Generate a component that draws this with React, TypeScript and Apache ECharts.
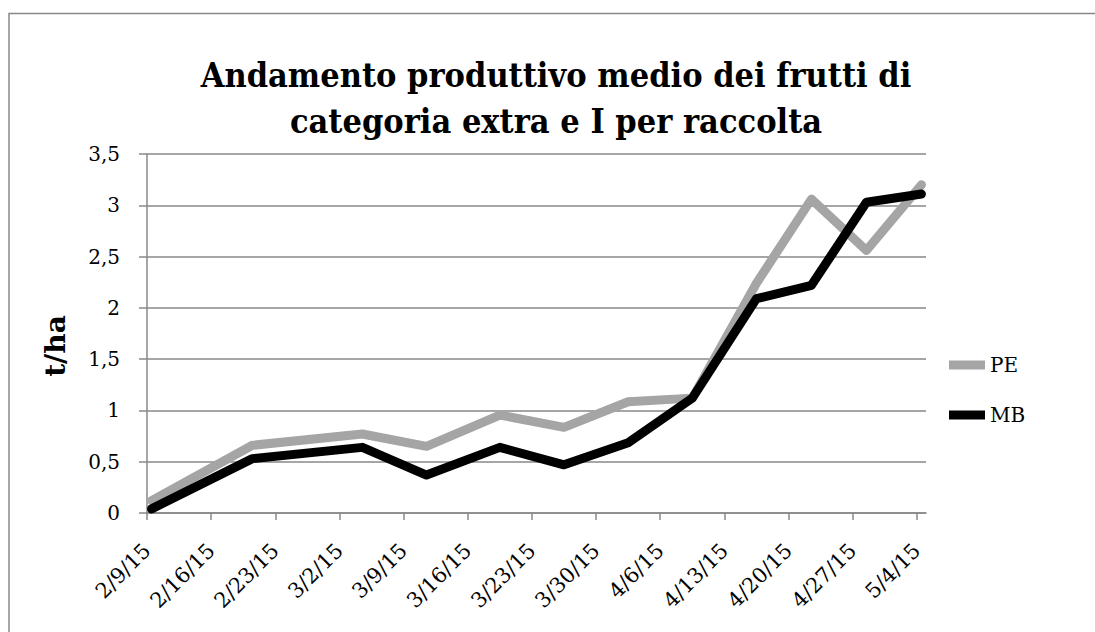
import React, { useEffect, useRef } from "react";
import * as echarts from "echarts";

const harvestDates = [
  "2015-02-09", "2015-02-20", "2015-03-04", "2015-03-11", "2015-03-19", "2015-03-26",
  "2015-04-02", "2015-04-09", "2015-04-16", "2015-04-22", "2015-04-28", "2015-05-04",
];
const peValues = [0.12, 0.66, 0.77, 0.65, 0.955, 0.835, 1.085, 1.12, 2.24, 3.06, 2.56, 3.2];
const mbValues = [0.04, 0.53, 0.64, 0.37, 0.64, 0.47, 0.685, 1.12, 2.09, 2.22, 3.03, 3.11];
const tickDates = [
  "2015-02-09", "2015-02-16", "2015-02-23", "2015-03-02", "2015-03-09", "2015-03-16", "2015-03-23",
  "2015-03-30", "2015-04-06", "2015-04-13", "2015-04-20", "2015-04-27", "2015-05-04",
];
const titleLines = ["Andamento produttivo medio dei frutti di", "categoria extra e I per raccolta"];
const yAxisTitle = "t/ha";
const axisStart = "2015-02-09";
const axisEnd = "2015-05-05";

const DAY = 86400000;
const dayOf = (s: string) => Math.round((Date.parse(s + "T00:00:00Z") - Date.parse(axisStart + "T00:00:00Z")) / DAY);
const fmt = (d: number) => {
  const t = new Date(Date.parse(axisStart + "T00:00:00Z") + Math.round(d) * DAY);
  return `${t.getUTCMonth() + 1}/${t.getUTCDate()}/${String(t.getUTCFullYear()).slice(2)}`;
};

const FONT = "'DejaVu Serif', 'Liberation Serif', serif";

export default function App() {
  const ref = useRef<HTMLDivElement>(null);
  useEffect(() => {
    if (!ref.current) return;
    const chart = echarts.init(ref.current, null, { renderer: "svg" });
    const ticks = tickDates.map(dayOf);
    const mk = (vals: number[]) => harvestDates.map((d, i) => [dayOf(d) + 0.5, vals[i]]);
    chart.setOption({
      animation: false,
      backgroundColor: "#fff",
      graphic: [
        {
          type: "rect",
          shape: { x: 9, y: 13.5, width: 1200, height: 700 },
          style: { fill: "none", stroke: "#888", lineWidth: 1.5 },
          silent: true,
        },
        ...titleLines.map((t, i) => ({
          type: "text",
          x: 556,
          y: 75 + i * 46,
          scaleX: 0.9,
          silent: true,
          style: {
            text: t,
            fontFamily: FONT,
            fontSize: 34,
            fontWeight: "bold",
            fill: "#000",
            textAlign: "center",
            textVerticalAlign: "middle",
          },
        })),
        {
          type: "text",
          x: 55,
          y: 346,
          rotation: Math.PI / 2,
          silent: true,
          style: {
            text: yAxisTitle,
            fontFamily: FONT,
            fontSize: 28,
            fontWeight: "bold",
            fill: "#000",
            textAlign: "center",
            textVerticalAlign: "middle",
          },
        },
      ],
      legend: {
        orient: "vertical",
        left: 944,
        top: 350,
        icon: "rect",
        itemWidth: 36,
        itemHeight: 9,
        itemGap: 30,
        textStyle: { fontFamily: FONT, fontSize: 20, color: "#000" },
        data: ["PE", "MB"],
      },
      grid: { left: 147, right: 169, top: 154, bottom: 119, containLabel: false },
      xAxis: {
        type: "value",
        min: dayOf(axisStart),
        max: dayOf(axisEnd),
        splitLine: { show: false },
        axisLine: { show: true, lineStyle: { color: "#888", width: 1.5 } },
        axisTick: { show: true, length: 7, inside: false, customValues: ticks, lineStyle: { color: "#888", width: 1.5 } },
        axisLabel: {
          customValues: ticks,
          rotate: 45,
          margin: 34,
          formatter: (v: number) => fmt(v),
          fontFamily: FONT,
          fontSize: 21,
          color: "#000",
        },
      },
      yAxis: {
        type: "value",
        min: 0,
        max: 3.5,
        interval: 0.5,
        axisLine: { show: true, lineStyle: { color: "#888", width: 1.5 } },
        axisTick: { show: true, length: 8, inside: false, lineStyle: { color: "#888", width: 1.5 } },
        splitLine: { show: true, lineStyle: { color: "#888", width: 1.5 } },
        axisLabel: {
          margin: 27,
          fontFamily: FONT,
          fontSize: 20,
          color: "#000",
          formatter: (v: number) => String(v).replace(".", ","),
        },
      },
      series: [
        {
          name: "PE",
          type: "line",
          data: mk(peValues),
          showSymbol: false,
          color: "#a5a5a5",
          lineStyle: { color: "#a5a5a5", width: 9, cap: "round", join: "round" },
        },
        {
          name: "MB",
          type: "line",
          data: mk(mbValues),
          showSymbol: false,
          color: "#000",
          lineStyle: { color: "#000", width: 9, cap: "round", join: "round" },
        },
      ],
    });
    return () => chart.dispose();
  }, []);
  return (
    <div
      ref={ref}
      style={{ position: "fixed", left: 0, top: 0, width: 1095, height: 632, background: "#fff" }}
    />
  );
}
